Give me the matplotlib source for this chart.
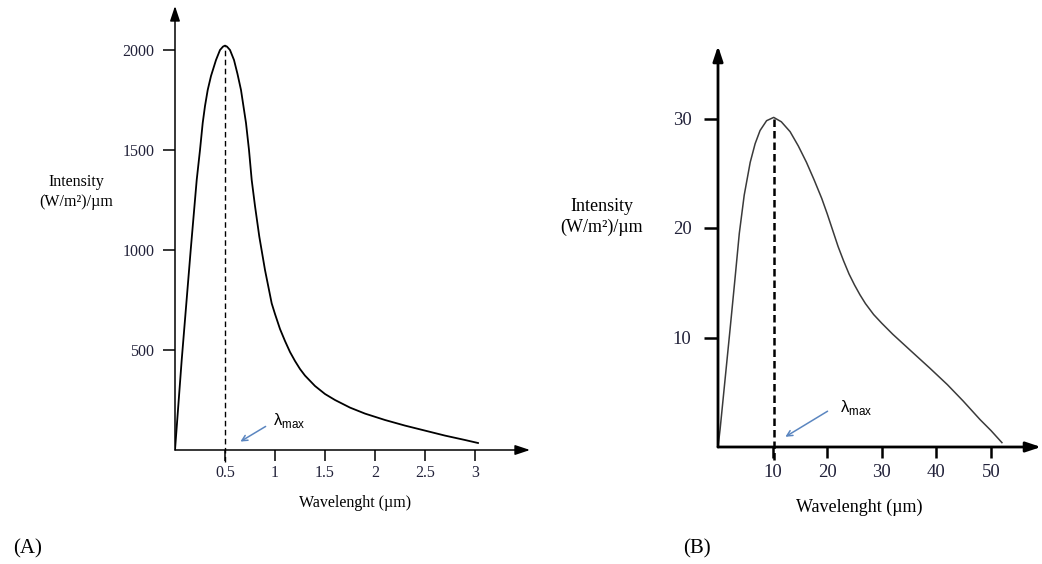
import numpy as np
import matplotlib.pyplot as plt

plt.rcParams['font.family'] = ['Liberation Serif', 'DejaVu Serif']
plt.rcParams['mathtext.fontset'] = 'custom'
plt.rcParams['mathtext.rm'] = 'Liberation Sans'

# panel A: visible spectrum curve
wl_a = [0, 0.067, 0.157, 0.217, 0.25, 0.277, 0.3, 0.327, 0.36, 0.41, 0.45, 0.48,
        0.5, 0.52, 0.55, 0.59, 0.625, 0.66, 0.71, 0.74, 0.767, 0.8, 0.843, 0.9,
        0.967, 1.0, 1.05, 1.1, 1.15, 1.2, 1.25, 1.3, 1.4, 1.5, 1.6, 1.75, 1.9,
        2.1, 2.3, 2.5, 2.7, 2.9, 3.03]
int_a = [0, 450, 1000, 1350, 1500, 1635, 1720, 1800, 1870, 1950, 2000, 2017,
         2022, 2017, 2000, 1950, 1880, 1800, 1635, 1500, 1350, 1220, 1067, 900,
         733, 680, 605, 545, 490, 445, 405, 372, 320, 280, 250, 212, 182,
         150, 122, 97, 72, 50, 35]
peak_a = 0.5
xticks_a = [0.5, 1, 1.5, 2, 2.5, 3]
xlabels_a = ['0.5', '1', '1.5', '2', '2.5', '3']
yticks_a = [500, 1000, 1500, 2000]

# panel B: infrared curve
wl_b = [0, 0.37, 1.3, 2.2, 3.1, 3.9, 4.8, 5.9, 6.8, 7.7, 8.9, 10.2, 11.6, 13.2,
        14.7, 16.2, 17.6, 19.0, 20.0, 21.0, 22.0, 23.0, 24.0, 25.0, 26.0, 27.0,
        28.5, 30, 32, 35.5, 38.8, 42, 44.9, 48, 50, 52]
int_b = [0, 1.55, 6.2, 10.7, 15.3, 19.5, 23.0, 26.0, 27.7, 28.9, 29.8, 30.1,
         29.7, 28.8, 27.5, 26.0, 24.4, 22.7, 21.3, 19.8, 18.3, 17.0, 15.8, 14.8,
         13.9, 13.1, 12.1, 11.3, 10.3, 8.7, 7.2, 5.7, 4.2, 2.5, 1.5, 0.4]
peak_b = 10.2
xticks_b = [10, 20, 30, 40, 50]
yticks_b = [10, 20, 30]

W, H = 1042, 564
fig = plt.figure(figsize=(W / 100, H / 100), dpi=100)


def px_axes(x0, y0, x1, y1):
    # axes from pixel box (origin at bottom-left corner x0,y0, top-right x1,y1)
    return fig.add_axes([x0 / W, 1 - y0 / H, (x1 - x0) / W, (y0 - y1) / H])


def arrow_axes(ax, lw):
    for s in ax.spines.values():
        s.set_visible(False)
    kw = dict(arrowstyle='-|>,head_length=0.9,head_width=0.3', color='black',
              lw=lw, shrinkA=0, shrinkB=0)
    ax.annotate('', xy=(1, 0), xytext=(0, 0), xycoords='axes fraction',
                arrowprops=kw)
    ax.annotate('', xy=(0, 1), xytext=(0, 0), xycoords='axes fraction',
                arrowprops=kw)


tick_col = '#22223a'
lam_col = '#5b86c0'

# ---- (A)
ax1 = px_axes(175, 450, 530, 6)
ax1.set_xlim(0, 3.55)
ax1.set_ylim(0, 2220)
arrow_axes(ax1, 1.1)
ax1.plot(wl_a, int_a, color='black', lw=1.3, solid_joinstyle='round')
ax1.plot([peak_a, peak_a], [-60, max(int_a)], color='black', lw=1.0,
         ls=(0, (4, 2.5)), clip_on=False)
ax1.set_xticks(xticks_a)
ax1.set_xticklabels(xlabels_a)
ax1.set_yticks(yticks_a)
ax1.tick_params(axis='x', direction='out', length=8, width=1.1, pad=3,
                labelsize=11.5, labelcolor=tick_col)
ax1.tick_params(axis='y', direction='out', length=9, width=1.1, pad=6,
                labelsize=11.5, labelcolor=tick_col)
ax1.annotate('', xy=(0.63, 35), xytext=(0.93, 125),
             arrowprops=dict(arrowstyle='->', color=lam_col, lw=1.1))
ax1.text(0.98, 150, r'$\mathrm{\lambda}_{\mathrm{max}}$', fontsize=12,
         va='center', ha='left')

fig.text(76 / W, 1 - 192 / H, 'Intensity\n(W/m²)/µm', ha='center', va='center',
         fontsize=11.5, linespacing=1.35)
fig.text(355 / W, 1 - 503 / H, 'Wavelenght (µm)', ha='center', va='center',
         fontsize=11.5)
fig.text(28 / W, 1 - 549 / H, '(A)', ha='center', va='center', fontsize=15)

# ---- (B)
ax2 = px_axes(718, 447, 1041, 46)
ax2.set_xlim(0, 323 / 5.46)
ax2.set_ylim(0, 401 / 10.95)
arrow_axes(ax2, 2.0)
ax2.plot(wl_b, int_b, color='#3a3a3a', lw=1.1, solid_joinstyle='round')
ax2.plot([peak_b, peak_b], [-1.2, max(int_b)], color='black', lw=1.8,
         ls=(0, (3, 1.6)), clip_on=False)
ax2.set_xticks(xticks_b)
ax2.set_yticks(yticks_b)
ax2.tick_params(axis='x', direction='out', length=8, width=1.8, pad=4,
                labelsize=13.5, labelcolor=tick_col)
ax2.tick_params(axis='y', direction='out', length=10, width=1.8, pad=9,
                labelsize=13.5, labelcolor=tick_col)
ax2.annotate('', xy=(11.9, 0.8), xytext=(20.5, 3.4),
             arrowprops=dict(arrowstyle='->', color=lam_col, lw=1.1))
ax2.text(22.3, 3.6, r'$\mathrm{\lambda}_{\mathrm{max}}$', fontsize=12,
         va='center', ha='left')

fig.text(602 / W, 1 - 217 / H, 'Intensity\n(W/m²)/µm', ha='center', va='center',
         fontsize=13, linespacing=1.35)
fig.text(859 / W, 1 - 507 / H, 'Wavelenght (µm)', ha='center', va='center',
         fontsize=13)
fig.text(697 / W, 1 - 549 / H, '(B)', ha='center', va='center', fontsize=15)

fig.savefig('out.png', dpi=100)
